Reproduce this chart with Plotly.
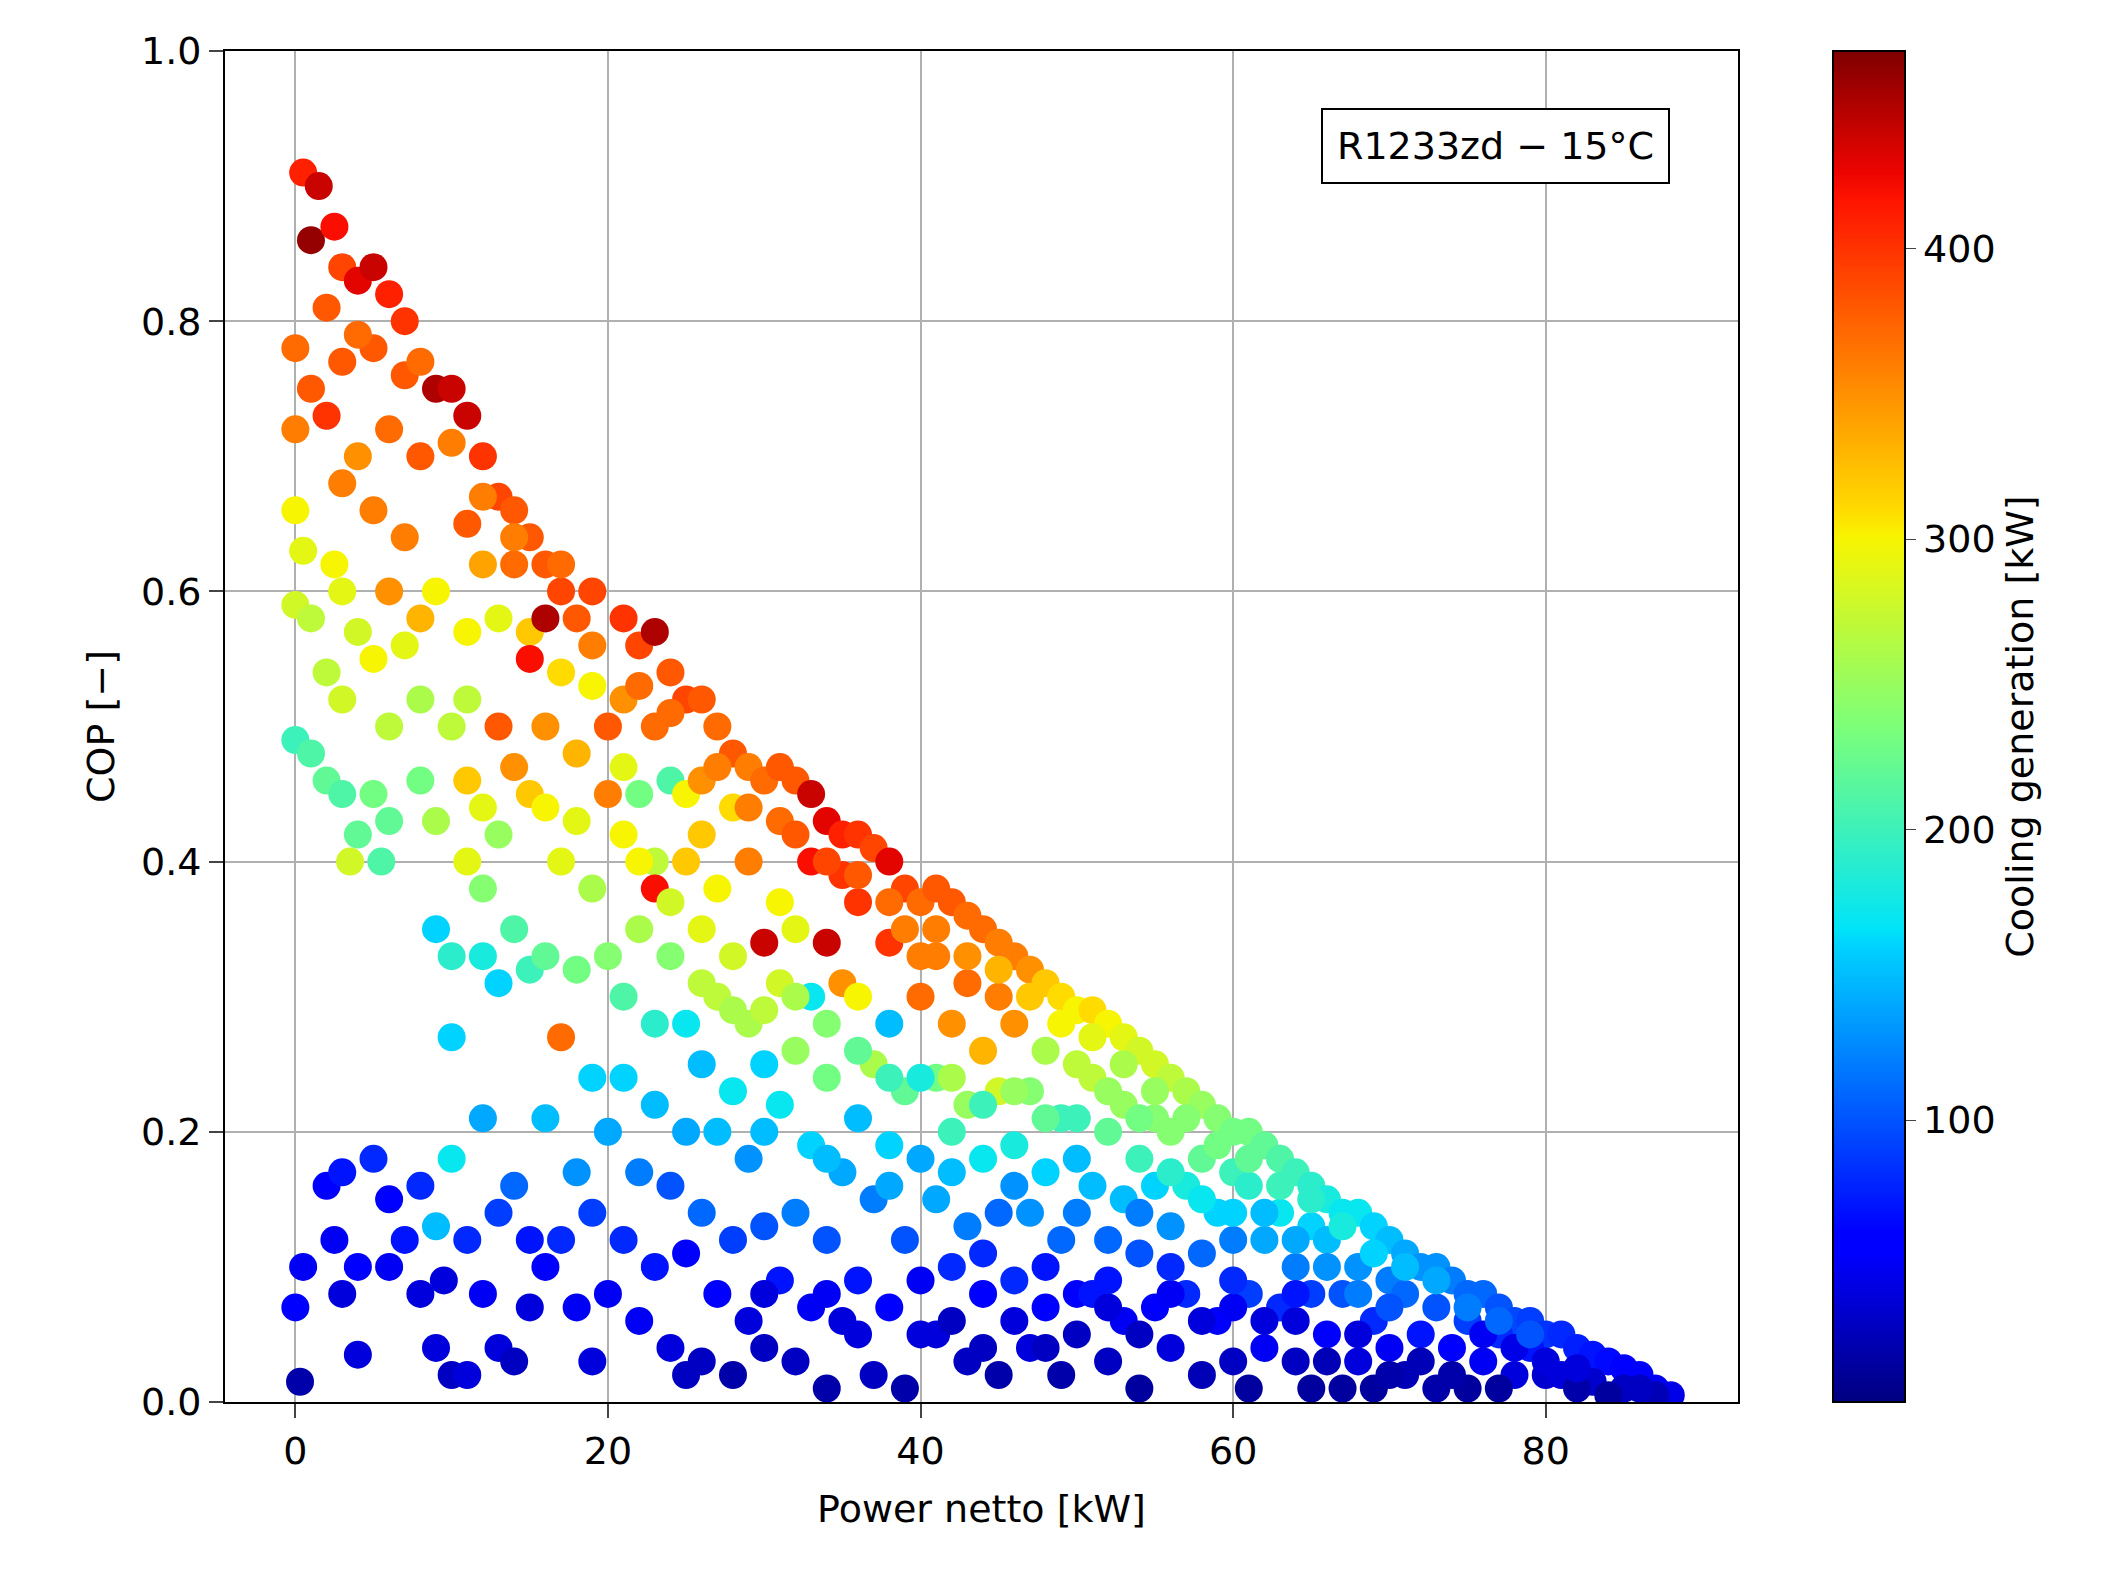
import plotly.graph_objects as go

# (power netto kW, COP, cooling kW), grouped by x band
band_00 = [(0.5,0.91,410),(1.5,0.90,440),(1,0.86,460),(0,0.78,370),(0,0.72,360),(1,0.75,380),(0,0.66,300),(0.5,0.63,290),(0,0.59,280),(1,0.58,270),(0,0.49,200),(1,0.48,210),(0,0.07,60),(0.3,0.015,20),(0.5,0.1,50)]
band_02 = [(2.5,0.87,420),(3,0.84,390),(2,0.81,380),(4,0.83,430),(3,0.77,380),(2,0.73,400),(3,0.68,360),(4,0.70,350),(2.5,0.62,300),(3,0.6,290),(4,0.57,280),(2,0.54,270),(3,0.52,280),(2,0.46,220),(3,0.45,210),(3.5,0.40,280),(4,0.42,220),(2,0.16,60),(3,0.17,70),(2.5,0.12,50),(4,0.1,60),(3,0.08,40),(4,0.035,40),(5,0.18,80)]
band_05 = [(5,0.84,440),(6,0.82,410),(7,0.80,400),(5,0.78,380),(7,0.76,380),(9,0.75,450),(10,0.75,440),(6,0.72,370),(8,0.70,380),(5,0.66,360),(7,0.64,360),(6,0.60,350),(8,0.58,330),(5,0.55,300),(7,0.56,290),(9,0.6,300),(6,0.5,270),(8,0.52,260),(10,0.5,270),(5,0.45,230),(6,0.43,220),(8,0.46,230),(9,0.43,260),(5.5,0.40,210),(9,0.35,160),(10,0.33,190),(10,0.27,160),(6,0.15,60),(7,0.12,70),(8,0.16,80),(9,0.13,150),(10,0.18,170),(8,0.08,40),(9,0.04,40),(10,0.02,30),(6,0.1,50),(9.5,0.09,40)]
band_10 = [(11,0.73,440),(12,0.70,400),(13,0.67,390),(14,0.66,380),(11,0.65,380),(12,0.62,340),(14,0.62,370),(11,0.57,300),(13,0.58,290),(15,0.57,320),(11,0.52,270),(13,0.50,380),(14,0.47,350),(11,0.46,320),(12,0.44,290),(13,0.42,250),(15,0.45,320),(11,0.40,290),(12,0.38,240),(14,0.35,210),(12,0.33,180),(13,0.31,160),(15,0.32,200),(12,0.21,140),(14,0.16,110),(13,0.14,90),(11,0.12,80),(15,0.12,70),(12,0.08,50),(13,0.04,40),(14,0.03,30),(11,0.02,40),(15,0.07,40)]
band_15 = [(15,0.64,380),(16,0.62,380),(17,0.60,390),(18,0.58,380),(19,0.60,390),(16,0.58,450),(15,0.55,420),(17,0.54,310),(19,0.53,300),(16,0.50,350),(18,0.48,330),(20,0.50,380),(16,0.44,300),(18,0.43,290),(20,0.45,360),(17,0.40,290),(19,0.38,260),(16,0.33,220),(18,0.32,230),(20,0.33,240),(17,0.27,370),(19,0.24,160),(16,0.21,150),(18,0.17,130),(20,0.2,140),(17,0.12,80),(19,0.14,90),(16,0.1,60),(18,0.07,50),(19,0.03,40),(20,0.08,50)]
band_20 = [(21,0.58,400),(22,0.56,390),(23,0.57,450),(24,0.54,380),(21,0.52,350),(23,0.50,370),(25,0.52,390),(21,0.47,290),(22,0.45,230),(24,0.46,210),(25,0.45,300),(21,0.42,300),(23,0.40,270),(23,0.38,420),(25,0.40,320),(22,0.35,260),(24,0.33,240),(21,0.30,210),(23,0.28,190),(25,0.28,170),(21,0.24,160),(23,0.22,150),(25,0.20,140),(22,0.17,120),(24,0.16,100),(21,0.12,80),(23,0.10,70),(25,0.11,60),(22,0.06,50),(24,0.04,40),(25,0.02,30)]
band_25 = [(26,0.52,380),(27,0.50,370),(28,0.48,380),(29,0.47,360),(26,0.46,350),(28,0.44,310),(30,0.46,370),(26,0.42,320),(27,0.38,300),(29,0.40,360),(26,0.35,290),(28,0.33,280),(30,0.34,440),(27,0.30,270),(29,0.28,260),(26,0.25,150),(28,0.23,170),(30,0.25,160),(27,0.20,150),(29,0.18,130),(26,0.14,110),(28,0.12,90),(30,0.13,100),(27,0.08,60),(29,0.06,40),(26,0.03,30),(28,0.02,20),(30,0.04,30)]
band_30 = [(31,0.47,380),(32,0.46,380),(33,0.45,440),(34,0.43,430),(35,0.42,410),(31,0.43,370),(33,0.40,420),(35,0.39,400),(31,0.37,300),(32,0.35,290),(34,0.34,440),(31,0.31,280),(33,0.30,170),(35,0.31,350),(32,0.26,250),(34,0.24,230),(31,0.22,170),(33,0.19,160),(35,0.17,140),(32,0.14,120),(34,0.12,100),(31,0.09,70),(33,0.07,50),(35,0.06,40),(32,0.03,30),(34,0.01,20)]
band_35 = [(36,0.42,400),(37,0.41,390),(38,0.40,430),(39,0.38,390),(40,0.37,370),(36,0.37,400),(38,0.34,400),(40,0.33,360),(36,0.30,300),(38,0.28,150),(40,0.30,370),(37,0.25,260),(39,0.23,220),(36,0.21,150),(38,0.19,160),(40,0.18,140),(37,0.15,120),(39,0.12,100),(36,0.09,70),(38,0.07,60),(40,0.05,40),(37,0.02,30),(39,0.01,20)]
band_40 = [(41,0.38,380),(42,0.37,380),(43,0.36,370),(44,0.35,370),(45,0.34,360),(41,0.33,360),(43,0.31,370),(45,0.30,360),(42,0.28,350),(44,0.26,330),(41,0.24,230),(43,0.22,250),(45,0.23,280),(42,0.20,200),(44,0.18,170),(41,0.15,140),(43,0.13,120),(45,0.14,110),(42,0.10,80),(44,0.08,60),(41,0.05,40),(43,0.03,30),(45,0.02,20)]
band_45 = [(46,0.33,360),(47,0.32,350),(48,0.31,320),(49,0.30,310),(50,0.29,300),(46,0.28,350),(48,0.26,260),(50,0.25,270),(47,0.23,240),(49,0.21,200),(46,0.19,180),(48,0.17,160),(50,0.18,150),(47,0.14,130),(49,0.12,110),(46,0.09,80),(48,0.07,60),(50,0.08,60),(47,0.04,40),(49,0.02,20)]
band_50 = [(51,0.29,310),(52,0.28,300),(53,0.27,290),(54,0.26,280),(55,0.25,280),(51,0.24,270),(53,0.22,250),(55,0.21,240),(52,0.20,220),(54,0.18,200),(51,0.16,150),(53,0.15,150),(55,0.16,160),(52,0.12,110),(54,0.11,100),(51,0.08,70),(53,0.06,50),(55,0.07,60),(52,0.03,30),(54,0.01,15)]
band_55 = [(56,0.24,270),(57,0.23,260),(58,0.22,250),(59,0.21,240),(60,0.20,230),(56,0.20,240),(58,0.18,220),(60,0.17,200),(57,0.16,180),(59,0.14,160),(56,0.13,130),(58,0.11,110),(60,0.12,120),(57,0.08,80),(59,0.06,60),(56,0.04,40),(58,0.02,25),(60,0.03,30)]
band_60 = [(61,0.20,230),(62,0.19,220),(63,0.18,210),(64,0.17,200),(65,0.16,190),(61,0.16,190),(63,0.14,170),(65,0.13,160),(62,0.12,140),(64,0.10,120),(61,0.08,90),(63,0.07,80),(65,0.08,90),(62,0.04,50),(64,0.03,30),(61,0.01,15),(65,0.01,15)]
band_65 = [(66,0.15,180),(67,0.14,170),(68,0.14,170),(69,0.13,160),(70,0.12,150),(66,0.12,150),(68,0.10,130),(70,0.09,120),(67,0.08,100),(69,0.06,80),(66,0.05,60),(68,0.03,40),(70,0.04,50),(67,0.01,15),(69,0.01,15)]
band_70 = [(71,0.11,140),(72,0.10,130),(73,0.10,130),(74,0.09,120),(75,0.08,110),(76,0.08,110),(77,0.07,100),(78,0.06,95),(79,0.06,90),(80,0.05,85),(71,0.08,110),(73,0.07,100),(75,0.06,90),(77,0.05,80),(79,0.04,70),(72,0.05,70),(74,0.04,60),(76,0.03,50),(78,0.02,40),(80,0.02,35),(71,0.02,25),(73,0.01,20),(75,0.01,15),(77,0.01,15)]
band_80 = [(81,0.05,80),(82,0.04,75),(83,0.035,70),(84,0.03,65),(85,0.025,60),(86,0.02,55),(87,0.01,50),(88,0.005,45),(81,0.02,40),(83,0.015,35),(85,0.01,30),(87,0.005,25),(82,0.01,20),(84,0.005,15)]
# extra points filling the dense areas
fill_top = [(4,0.79,370),(8,0.77,370),(10,0.71,360),(12,0.67,360),(14,0.64,360),(17,0.62,370),(19,0.56,360),(22,0.53,370),(24,0.51,370),(27,0.47,360),(29,0.44,360),(32,0.42,380),(34,0.40,390),(36,0.39,380),(38,0.37,370),(39,0.35,360),(41,0.35,360),(43,0.33,350),(45,0.32,330),(47,0.30,320),(49,0.28,300),(51,0.27,290),(53,0.25,260),(55,0.23,250),(57,0.21,240),(59,0.19,230),(61,0.18,220),(63,0.16,200),(65,0.15,190),(67,0.13,180),(69,0.11,160),(71,0.10,150),(73,0.09,140),(75,0.07,120),(77,0.06,110),(79,0.05,100)]
fill_mid = [(22,0.40,300),(24,0.37,280),(26,0.31,270),(28,0.29,260),(30,0.29,270),(32,0.30,260),(34,0.28,240),(36,0.26,220),(38,0.24,200),(40,0.24,180),(42,0.24,260),(44,0.22,200),(46,0.23,250),(48,0.21,220),(50,0.21,200),(52,0.23,250),(54,0.21,230),(56,0.17,190),(58,0.15,170),(60,0.14,160),(62,0.14,150),(64,0.12,140),(66,0.10,130),(68,0.08,120),(70,0.07,100),(30,0.20,150),(34,0.18,150),(38,0.16,140),(42,0.17,150),(46,0.16,130),(50,0.14,120),(54,0.14,120)]
fill_low = [(30,0.08,40),(34,0.08,50),(36,0.05,40),(40,0.09,50),(42,0.06,30),(44,0.04,30),(46,0.06,40),(48,0.04,30),(50,0.05,30),(52,0.07,40),(54,0.05,30),(56,0.08,50),(58,0.06,40),(60,0.07,50),(62,0.06,40),(64,0.06,40),(66,0.03,25),(68,0.05,40),(70,0.02,20),(72,0.03,25),(74,0.02,20),(76,0.05,50),(78,0.04,45),(80,0.03,40),(82,0.025,40),(86,0.01,30),(44,0.11,80),(48,0.10,70),(52,0.09,70),(56,0.10,80),(60,0.09,80),(64,0.08,70)]

bands = [band_00, band_02, band_05, band_10, band_15, band_20, band_25, band_30,
         band_35, band_40, band_45, band_50, band_55, band_60, band_65, band_70, band_80,
         fill_low, fill_mid, fill_top]
pts = [p for b in bands for p in b]
power = [p[0] for p in pts]
cop = [p[1] for p in pts]
cooling = [p[2] for p in pts]

# matplotlib-style jet
jet = [[0.0, '#000080'], [0.11, '#0000ff'], [0.125, '#0000ff'], [0.34, '#00d5ff'],
       [0.35, '#00e4f8'], [0.5, '#7cff79'], [0.64, '#f8f500'], [0.66, '#ffdb00'],
       [0.89, '#ff1300'], [0.91, '#ed0400'], [1.0, '#7f0000']]

font = dict(family='DejaVu Sans', size=38, color='black')

fig = go.Figure(go.Scatter(
    x=power, y=cop, mode='markers',
    marker=dict(size=28, color=cooling, colorscale=jet, cmin=3, cmax=468,
                line=dict(width=0),
                colorbar=dict(title=dict(text='Cooling generation [kW]', side='right', font=font),
                              tickfont=font, tickvals=[100, 200, 300, 400], ticks='outside',
                              ticklen=10, thickness=72, len=1, lenmode='fraction', ypad=0,
                              x=1.056, xanchor='left', y=0.5, yanchor='middle',
                              outlinewidth=2, outlinecolor='black')),
    showlegend=False))

axis = dict(showgrid=True, gridcolor='#b0b0b0', gridwidth=2, showline=True, linecolor='black',
            linewidth=2, mirror=True, ticks='outside', ticklen=14, tickwidth=2,
            tickfont=font, zeroline=False)
fig.update_layout(
    width=2120, height=1584, plot_bgcolor='white', paper_bgcolor='white', font=font,
    margin=dict(l=217, r=390, t=43, b=190),
    xaxis=dict(axis, range=[-4.5, 92.3], tickvals=[0, 20, 40, 60, 80],
               title=dict(text='Power netto [kW]', font=font, standoff=24)),
    yaxis=dict(axis, range=[0, 1], tickvals=[0, 0.2, 0.4, 0.6, 0.8, 1.0], tickformat='.1f',
               title=dict(text='COP [−]', font=font)),
    annotations=[dict(text='R1233zd − 15°C', xref='paper', yref='paper', x=0.955, y=0.93,
                      xanchor='right', yanchor='middle', showarrow=False, font=font,
                      bordercolor='black', borderwidth=2, borderpad=14, bgcolor='white')])

fig.write_html('out.html')
